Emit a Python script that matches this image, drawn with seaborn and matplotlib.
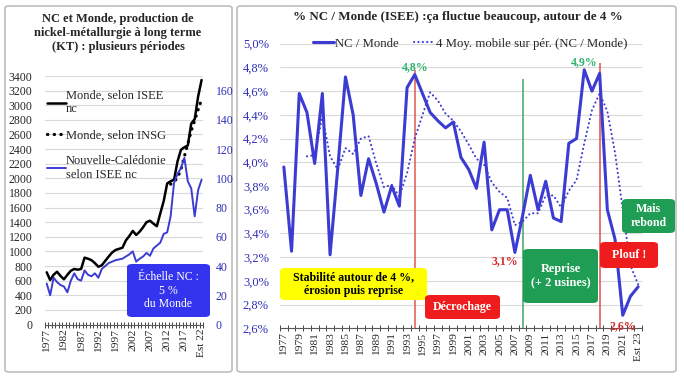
import numpy as np
import pandas as pd
import matplotlib
matplotlib.use("Agg")
import matplotlib.pyplot as plt
from matplotlib.lines import Line2D
from matplotlib.patches import FancyBboxPatch
from matplotlib.ticker import FuncFormatter, FixedLocator
import seaborn as sns

# --- left chart : production (kt) ---
years_long = list(range(1977, 2023))
world_isee = [714, 609, 680, 722, 665, 618, 680, 735, 760, 750,
              760, 915, 900, 880, 840, 790, 810, 870, 930, 985,
              1020, 1035, 1050, 1150, 1210, 1280, 1225, 1270, 1330, 1400,
              1420, 1380, 1345, 1520, 1690, 1930, 1960, 1980, 2230, 2390,
              2425, 2450, 2750, 2810, 3120, 3345]
world_insg = [np.nan] * 36 + [1920, 1950, 2010, 2120, 2300, 2470, 2650, 2790, 2940, 3080]
nc_prod = [28, 20, 32, 29, 27, 26, 22, 30, 35, 31,
           30, 37, 34, 33, 35, 32, 38, 40, 42, 43,
           44, 44.5, 45, 46.5, 48, 50, 43, 45, 46.5, 49,
           47, 52, 54, 56, 62, 63, 74, 97, 103, 107,
           114, 98, 93, 74, 92, 99]

# --- right chart : share NC / world (%) ---
years_pct = list(range(1977, 2024))
nc_share = [3.96, 3.25, 4.58, 4.42, 3.99, 4.58, 3.22, 3.95, 4.72, 4.40,
            3.72, 4.03, 3.82, 3.58, 3.80, 3.63, 4.63, 4.74, 4.58, 4.42,
            4.35, 4.29, 4.34, 4.04, 3.94, 3.78, 4.17, 3.43, 3.60, 3.60,
            3.24, 3.55, 3.89, 3.60, 3.84, 3.53, 3.50, 4.16, 4.20, 4.78,
            4.60, 4.75, 3.60, 3.35, 2.71, 2.87, 2.95]
nc_share_ma4 = [np.nan, np.nan, np.nan, 4.05, 4.06, 4.39, 4.05, 3.94, 4.12, 4.07,
                4.20, 4.22, 3.99, 3.79, 3.81, 3.71, 3.91, 4.20, 4.40, 4.59,
                4.52, 4.41, 4.35, 4.26, 4.15, 4.03, 3.98, 3.83, 3.75, 3.70,
                3.47, 3.50, 3.57, 3.57, 3.72, 3.72, 3.62, 3.76, 3.85, 4.16,
                4.44, 4.58, 4.43, 4.08, 3.60, 3.13, 2.97]
event_years = [1994, 2008, 2018]
event_tops = [4.78, 4.70, 4.84]
event_colors = ["#e0574f", "#3fa46a", "#d9534f"]

BLUE = "#3c3cd2"
TICKBLUE = "#2f2fb8"
GREEN = "#1f9d55"
RED = "#ee1c1c"
DOTS = (0, (0.1, 2.0))

sns.set_style("white")
plt.rcParams["font.family"] = ["Liberation Serif", "DejaVu Serif"]

W, H = 684, 385
fig = plt.figure(figsize=(W / 100, H / 100), dpi=100)


def fx(px):
    return px / W


def fy(py):
    return 1 - py / H


def tag(x0, y0, x1, y1, text, fc, tc, size=8, weight="bold"):
    fig.patches.append(FancyBboxPatch(
        (fx(x0), fy(y1)), fx(x1) - fx(x0), fy(y0) - fy(y1),
        boxstyle="round,pad=0,rounding_size=0.008", transform=fig.transFigure,
        fc=fc, ec="none", zorder=5))
    fig.text(fx((x0 + x1) / 2), fy((y0 + y1) / 2), text, ha="center", va="center",
             color=tc, fontsize=size, fontweight=weight, linespacing=1.15, zorder=6)


# panel frames
for x0, x1 in [(5, 232), (237, 676)]:
    fig.patches.append(FancyBboxPatch(
        (fx(x0), fy(372)), fx(x1) - fx(x0), fy(6) - fy(372),
        boxstyle="round,pad=0,rounding_size=0.006", transform=fig.transFigure,
        fc="white", ec="#bdbdbd", lw=1.2, zorder=-1))

# ---------------- left chart ----------------
df_long = pd.DataFrame({"year": years_long, "isee": world_isee,
                        "insg": world_insg, "nc": nc_prod})

axL = fig.add_axes([fx(45), fy(324.5), fx(203.3) - fx(45), fy(76) - fy(324.5)])
axL.patch.set_alpha(0)
sns.lineplot(data=df_long, x="year", y="isee", ax=axL, color="black", lw=1.8)
sns.lineplot(data=df_long, x="year", y="insg", ax=axL, color="black", lw=2.3,
             linestyle=DOTS, dash_capstyle="round")
axL2 = axL.twinx()
sns.lineplot(data=df_long, x="year", y="nc", ax=axL2, color=BLUE, lw=1.4)

axL.set_xlim(years_long[0] - 0.5, years_long[-1] + 0.5)
axL.set_ylim(0, 3400)
axL2.set_ylim(0, 170)
axL.set_yticks(range(0, 3401, 200))
axL2.set_yticks(range(0, 161, 20))
axL.grid(axis="y", color="#d9d9d9", lw=0.8)
axL.set_axisbelow(True)
for a in (axL, axL2):
    a.set_xlabel("")
    a.set_ylabel("")
    for s in ("top", "left", "right"):
        a.spines[s].set_visible(False)
axL2.spines["bottom"].set_visible(False)
axL.spines["bottom"].set_color("#595959")

lx = [y for y in years_long if (y - 1977) % 5 == 0]
axL.set_xticks(lx)
axL.set_xticklabels([str(y) if y != 2022 else "Est 22" for y in lx],
                    rotation=90, fontsize=8.2)
axL.xaxis.set_minor_locator(FixedLocator(np.arange(years_long[0] - 0.5, years_long[-1] + 1, 1)))
axL.tick_params(axis="x", which="major", length=0, pad=3)
axL.tick_params(axis="x", which="minor", direction="inout", length=4, width=0.7,
                color="#404040", bottom=True)
axL.tick_params(axis="y", length=0, labelsize=8.5, pad=9)
axL2.tick_params(axis="y", length=0, labelsize=8.5, pad=9, labelcolor=TICKBLUE)

handles = [Line2D([], [], color="black", lw=1.8),
           Line2D([], [], color="black", lw=2.3, linestyle=DOTS, dash_capstyle="round"),
           Line2D([], [], color=BLUE, lw=1.4)]
labels = ["Monde, selon ISEE\nnc", "Monde, selon INSG", "Nouvelle-Calédonie\nselon ISEE nc"]
axL2.legend(handles, labels, loc="upper left", bbox_to_anchor=(-0.02, 0.965),
            frameon=False, fontsize=9, handlelength=1.5, handletextpad=0.0,
            labelspacing=1.1, borderaxespad=0)

fig.text(fx(118), fy(33), "NC et Monde, production de\nnickel-métallurgie à long terme\n(KT) : plusieurs périodes",
         ha="center", va="center", fontsize=9, fontweight="bold", linespacing=1.2)

tag(127, 264, 210, 317, "Échelle NC :\n5 %\ndu Monde", "#3434ee", "white", size=8.5, weight="normal")

# ---------------- right chart ----------------
df_pct = pd.DataFrame({"year": years_pct, "share": nc_share, "ma4": nc_share_ma4})

axP = fig.add_axes([fx(280), fy(328.3), fx(642) - fx(280), fy(43.7) - fy(328.3)])
axP.patch.set_alpha(0)
sns.lineplot(data=df_pct, x="year", y="share", ax=axP, color=BLUE, lw=2.2)
sns.lineplot(data=df_pct, x="year", y="ma4", ax=axP, color=BLUE, lw=1.5,
             linestyle=DOTS, dash_capstyle="round")
axP.set_xlim(years_pct[0] - 0.5, years_pct[-1] + 0.5)
axP.set_ylim(2.6, 5.0)
axP.set_yticks(np.round(np.arange(2.6, 5.01, 0.2), 1))
axP.yaxis.set_major_formatter(FuncFormatter(lambda v, p: f"{v:.1f}".replace(".", ",") + "%"))
axP.grid(axis="y", color="#d9d9d9", lw=0.8)
axP.set_axisbelow(True)
axP.set_xlabel("")
axP.set_ylabel("")
for s in ("top", "left", "right"):
    axP.spines[s].set_visible(False)
axP.spines["bottom"].set_color("#595959")

px = [y for y in years_pct if (y - 1977) % 2 == 0]
axP.set_xticks(px)
axP.set_xticklabels([str(y) if y != 2023 else "Est 23" for y in px],
                    rotation=90, fontsize=8.2)
axP.xaxis.set_minor_locator(FixedLocator(np.arange(years_pct[0] - 0.5, years_pct[-1] + 1, 1)))
axP.tick_params(axis="x", which="major", length=0, pad=3)
axP.tick_params(axis="x", which="minor", direction="inout", length=4, width=0.7,
                color="#404040", bottom=True)
axP.tick_params(axis="y", length=0, labelsize=9, pad=8, labelcolor=TICKBLUE)

for yr, top, c in zip(event_years, event_tops, event_colors):
    axP.vlines(yr, 2.6, top, color=c, lw=1.1, zorder=1)

hP = [Line2D([], [], color=BLUE, lw=2.2),
      Line2D([], [], color=BLUE, lw=1.5, linestyle=DOTS, dash_capstyle="round")]
axP.legend(hP, ["NC / Monde", "4 Moy. mobile sur pér. (NC / Monde)"], loc="center",
           bbox_to_anchor=(0.525, 1.0), ncol=2, frameon=False, fontsize=9.2,
           handlelength=1.6, handletextpad=0.1, columnspacing=1.2)

fig.text(fx(458), fy(17), "% NC / Monde (ISEE) :ça fluctue beaucoup, autour de 4 %",
         ha="center", va="center", fontsize=9.4, fontweight="bold")

i94 = years_pct.index(1994)
i16 = years_pct.index(2016)
i07 = years_pct.index(2007)
i21 = years_pct.index(2021)
axP.annotate("4,8%", (1994, nc_share[i94]), xytext=(0, 1), textcoords="offset points",
             ha="center", va="bottom", color="#2fb36d", fontsize=8.5, fontweight="bold")
axP.annotate("4,9%", (2016, nc_share[i16]), xytext=(0, 1.5), textcoords="offset points",
             ha="center", va="bottom", color="#2fb36d", fontsize=8.5, fontweight="bold")
axP.annotate("3,1%", (2007, nc_share[i07]), xytext=(-7, -6), textcoords="offset points",
             ha="center", va="center", color="#d42a2a", fontsize=8.5, fontweight="bold")
axP.annotate("2,6%", (2021, nc_share[i21]), xytext=(0, -8), textcoords="offset points",
             ha="center", va="center", color="#d42a2a", fontsize=8.5, fontweight="bold",
             annotation_clip=False)

tag(280, 268, 427, 300, "Stabilité autour de 4 %,\nérosion puis reprise", "#ffff00", "black", size=8.6)
tag(425, 295, 500, 319, "Décrochage", RED, "white", size=8.6)
tag(523, 249, 598, 303, "Reprise\n(+ 2 usines)", GREEN, "white", size=8.8)
tag(600, 242, 658, 268, "Plouf !", RED, "white", size=8.6)
tag(622, 199, 675, 233, "Mais\nrebond", GREEN, "white", size=8.6)

fig.savefig("out.png", dpi=100)
